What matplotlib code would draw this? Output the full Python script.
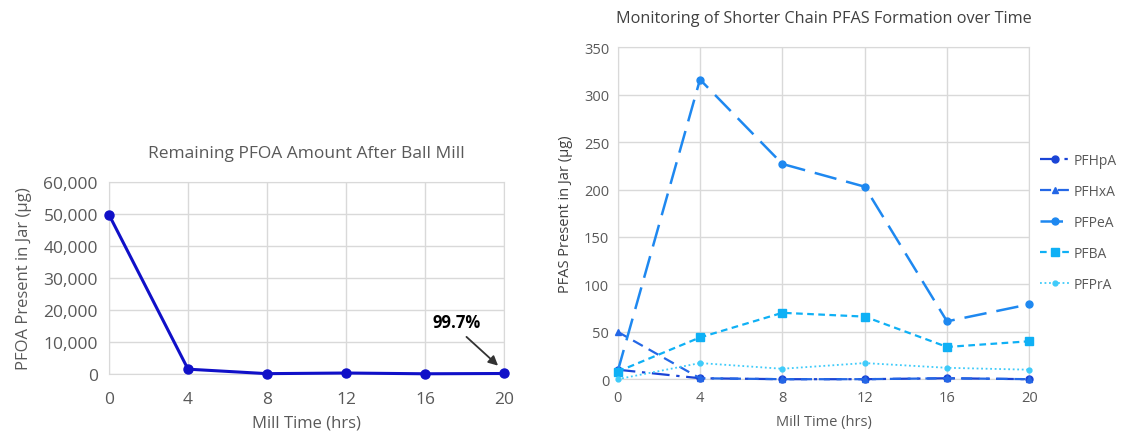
import matplotlib.pyplot as plt

plt.rcParams['font.family'] = ['Open Sans', 'DejaVu Sans']

# Datos: tiempo de molienda (h)
mill_time = [0, 4, 8, 12, 16, 20]

# PFOA restante (µg)
pfoa = [49800, 1500, 100, 300, 60, 150]

# PFAS de cadena corta (µg)
pfhpa = [10, 1, 0, 0, 1, 0]
pfhxa = [50, 1, 0, 0, 1, 0]
pfpea = [8, 316, 227, 203, 61, 79]
pfba = [8, 44, 70, 66, 34, 40]
pfpra = [0, 17, 11, 17, 12, 10]

x_ticks = [0, 4, 8, 12, 16, 20]
left_yticks = [0, 10000, 20000, 30000, 40000, 50000, 60000]
right_yticks = [0, 50, 100, 150, 200, 250, 300, 350]

text_col = '#595959'
grid_col = '#d9d9d9'


def style_axes(ax):
    ax.grid(True, color=grid_col, linewidth=1)
    ax.set_axisbelow(True)
    for s in ax.spines.values():
        s.set_color(grid_col)
    ax.tick_params(length=0, colors=text_col)


fig = plt.figure(figsize=(11.25, 4.35), dpi=100)

# Gráfico izquierdo: PFOA restante
ax1 = fig.add_axes([0.0969, 0.138, 0.3511, 0.441])
style_axes(ax1)
ax1.plot(mill_time, pfoa, color='#1010c8', linewidth=2.2, marker='o', markersize=6.5, clip_on=False, zorder=3)
ax1.set_xlim(0, 20)
ax1.set_ylim(0, 60000)
ax1.set_xticks(x_ticks)
ax1.set_yticks(left_yticks)
ax1.set_yticklabels([f'{v:,}' for v in left_yticks])
ax1.tick_params(axis='both', labelsize=12.5, pad=8)
ax1.tick_params(axis='x', pad=12)
ax1.set_title('Remaining PFOA Amount After Ball Mill', fontsize=12.5, color=text_col, pad=18)
ax1.set_xlabel('Mill Time (hrs)', fontsize=12, color=text_col, labelpad=6)
ax1.set_ylabel('PFOA Present in Jar (µg)', fontsize=12, color=text_col, labelpad=8)
# flecha y porcentaje de reducción
ax1.annotate('', xy=(19.7, 2600), xytext=(18.1, 11600),
             arrowprops=dict(arrowstyle='-|>', color='#333333', lw=1.3, mutation_scale=14,
                             shrinkA=0, shrinkB=0))
ax1.text(17.6, 16300, '99.7%', fontsize=12, fontweight='bold', color='black', ha='center', va='center')

# Gráfico derecho: PFAS de cadena corta
ax2 = fig.add_axes([0.549, 0.126, 0.366, 0.763])
style_axes(ax2)
ax2.plot(mill_time, pfhpa, color='#1a44d6', linewidth=1.6, linestyle=(0, (8, 3, 1.5, 3)),
         marker='o', markersize=5, label='PFHpA', clip_on=False, zorder=3)
ax2.plot(mill_time, pfhxa, color='#2467e6', linewidth=1.6, linestyle=(0, (5, 3)),
         marker='^', markersize=5, label='PFHxA', clip_on=False, zorder=3)
ax2.plot(mill_time, pfpea, color='#1e88f0', linewidth=1.8, linestyle=(0, (9, 4)),
         marker='o', markersize=5, label='PFPeA', clip_on=False, zorder=3)
ax2.plot(mill_time, pfba, color='#0fb0f5', linewidth=1.6, linestyle=(0, (3, 2)),
         marker='s', markersize=5.5, label='PFBA', clip_on=False, zorder=3)
ax2.plot(mill_time, pfpra, color='#3fcbfa', linewidth=1.3, linestyle=(0, (1, 1.5)),
         marker='o', markersize=3.5, label='PFPrA', clip_on=False, zorder=3)
ax2.set_xlim(0, 20)
ax2.set_ylim(0, 350)
ax2.set_xticks(x_ticks)
ax2.set_yticks(right_yticks)
ax2.tick_params(axis='both', labelsize=10.5, pad=6)
ax2.tick_params(axis='x', pad=8)
ax2.set_title('Monitoring of Shorter Chain PFAS Formation over Time', fontsize=11.7, color='#404040', pad=18)
ax2.set_xlabel('Mill Time (hrs)', fontsize=10.5, color=text_col, labelpad=6)
ax2.set_ylabel('PFAS Present in Jar (µg)', fontsize=10.5, color='#404040', labelpad=8)

leg = ax2.legend(loc='center left', bbox_to_anchor=(1.012, 0.473), borderaxespad=0, frameon=False,
                 fontsize=10, labelspacing=1.15, handlelength=2.2, handletextpad=0.2)
for t in leg.get_texts():
    t.set_color(text_col)

fig.savefig('out.png', dpi=100)
